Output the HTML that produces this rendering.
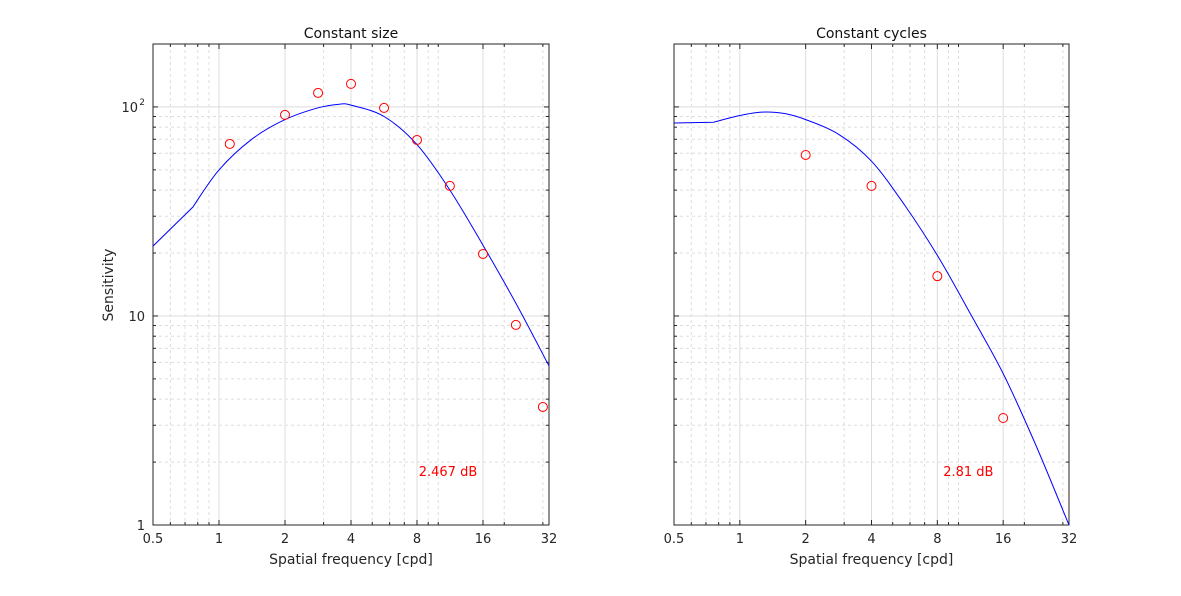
<!DOCTYPE html>
<html><head><meta charset="utf-8"><style>
body{margin:0;background:#fff;}
svg text{font-family:"DejaVu Sans","Liberation Sans",sans-serif;}
</style></head><body>
<svg id="chart" width="1181" height="591" xmlns="http://www.w3.org/2000/svg"></svg>
<script>
const xTicks=[0.5,1,2,4,8,16,32];
const xTickLabels=["0.5","1","2","4","8","16","32"];
const yTicks=[1,10,100];
const yTickLabels=["1","10","10"];
const leftPtsX=[1.12,2,2.83,4,5.66,8,11.3,16,22.6,30];
const leftPtsY=[66.5,91.6,116.7,128.9,98.9,69.5,41.9,19.8,9.06,3.67];
const leftCurveX=[0.5,0.76,1,1.41,2,2.83,3.55,4,5.66,8,11.3,16,22.6,32];
const leftCurveY=[21.6,33.2,50,70,87,99,103,102,90,66,40,21.8,11.5,5.77];
const rightPtsX=[2,4,8,16];
const rightPtsY=[58.9,41.9,15.5,3.25];
const rightCurveX=[0.5,0.76,1,1.26,1.6,2,2.83,4,5.66,8,11.3,16,22.6,32];
const rightCurveY=[83.8,84.5,91,94.5,93,87,74,55,34,19.5,10.3,5.3,2.4,1.0];
const errLabels=["2.467 dB","2.81 dB"];
const ns="http://www.w3.org/2000/svg";
const svg=document.getElementById('chart');
function mk(t,a,p){const e=document.createElementNS(ns,t);for(const k in a)e.setAttribute(k,a[k]);(p||svg).appendChild(e);return e;}
const yTopPx=44,yBotPx=525,yMin=1,yMax=200;
function smoothPath(P){
  let d='M'+P[0][0].toFixed(1)+','+P[0][1].toFixed(1)+'L'+P[1][0].toFixed(1)+','+P[1][1].toFixed(1);
  for(let i=1;i<P.length-1;i++){
    const p0=P[Math.max(1,i-1)],p1=P[i],p2=P[i+1],p3=P[Math.min(P.length-1,i+2)];
    const c1=[p1[0]+(p2[0]-p0[0])/6,p1[1]+(p2[1]-p0[1])/6];
    const c2=[p2[0]-(p3[0]-p1[0])/6,p2[1]-(p3[1]-p1[1])/6];
    d+='C'+c1[0].toFixed(1)+','+c1[1].toFixed(1)+' '+c2[0].toFixed(1)+','+c2[1].toFixed(1)+' '+p2[0].toFixed(1)+','+p2[1].toFixed(1);
  }
  return d;
}
function panel(x0,x1,title,px,py,cx,cy,err,showY,nm){
  const g=mk('g',{});
  
  
  const sx=v=>x0+(Math.log2(v/0.5))/6*(x1-x0);
  const sy=v=>yBotPx-(Math.log10(v)-Math.log10(yMin))/(Math.log10(yMax)-Math.log10(yMin))*(yBotPx-yTopPx);
  const minorX=[0.6,0.7,0.8,0.9,3,5,6,7,9,10,20,30];
  minorX.forEach(v=>{const l=mk('line',{x1:sx(v),x2:sx(v),y1:yTopPx,y2:yBotPx,stroke:'#dedede','stroke-dasharray':'3,3'},g);
    
    
    mk('line',{x1:sx(v),x2:sx(v),y1:yTopPx,y2:yTopPx+3,stroke:'#262626'},g);
    mk('line',{x1:sx(v),x2:sx(v),y1:yBotPx,y2:yBotPx-3,stroke:'#262626'},g);});
  [1,10,100].forEach(d=>[2,3,4,5,6,7,8,9].forEach(m=>{const v=d*m;if(v<=yMax){const l=mk('line',{x1:x0,x2:x1,y1:sy(v),y2:sy(v),stroke:'#dedede','stroke-dasharray':'3,3'},g);
    
    
    mk('line',{x1:x0,x2:x0+3,y1:sy(v),y2:sy(v),stroke:'#262626'},g);mk('line',{x1:x1,x2:x1-3,y1:sy(v),y2:sy(v),stroke:'#262626'},g);}}));
  xTicks.forEach((v,i)=>{const l=mk('line',{x1:sx(v),x2:sx(v),y1:yTopPx,y2:yBotPx,stroke:'#dcdcdc'},g);
    
    
    mk('line',{x1:sx(v),x2:sx(v),y1:yBotPx,y2:yBotPx-5,stroke:'#262626'},g);mk('line',{x1:sx(v),x2:sx(v),y1:yTopPx,y2:yTopPx+5,stroke:'#262626'},g);
    const t=mk('text',{x:sx(v),y:yBotPx+18,'text-anchor':'middle','font-size':13,fill:'#262626'},g);t.textContent=xTickLabels[i];
    
    });
  yTicks.forEach((v,i)=>{const l=mk('line',{x1:x0,x2:x1,y1:sy(v),y2:sy(v),stroke:'#dcdcdc'},g);
    
    
    mk('line',{x1:x0,x2:x0+5,y1:sy(v),y2:sy(v),stroke:'#262626'},g);mk('line',{x1:x1,x2:x1-5,y1:sy(v),y2:sy(v),stroke:'#262626'},g);
    if(showY){const t=mk('text',{x:x0-(i==2?15:8),y:sy(v)+5,'text-anchor':'end','font-size':13,fill:'#262626'},g);
      t.textContent=yTickLabels[i];
      if(i==2){const s=mk('text',{x:x0-8,y:sy(v)-2,'text-anchor':'end','font-size':9,fill:'#262626'},g);s.textContent='2';
        
        }
      
      }});
  const b=mk('rect',{x:x0,y:yTopPx,width:x1-x0,height:yBotPx-yTopPx,fill:'none',stroke:'#262626'},g);
  
  
  const cp=mk('clipPath',{id:'c'+nm},g);mk('rect',{x:x0,y:yTopPx,width:x1-x0,height:yBotPx-yTopPx},cp);
  const P=cx.map((v,i)=>[sx(v),sy(cy[i])]);
  const p=mk('path',{d:smoothPath(P),fill:'none',stroke:'#0000ff','stroke-width':1,'clip-path':'url(#c'+nm+')'},g);
  
  
  px.forEach((v,i)=>{const c=mk('circle',{cx:sx(v),cy:sy(py[i]),r:4.5,fill:'none',stroke:'#ff0000'},g);
    
    });
  const tt=mk('text',{x:(x0+x1)/2,y:38,'text-anchor':'middle','font-size':14,fill:'#111'},g);tt.textContent=title;
  
  
  const xl=mk('text',{x:(x0+x1)/2,y:564,'text-anchor':'middle','font-size':14,fill:'#262626'},g);xl.textContent='Spatial frequency [cpd]';
  
  
  const e=mk('text',{x:sx(8)+31,y:476,'text-anchor':'middle','font-size':13,fill:'#ff0000'},g);e.textContent=err;
  
  
  if(showY){const yl=mk('text',{x:113,y:285,'text-anchor':'middle','font-size':14,fill:'#262626',transform:'rotate(-90 113 285)'},g);yl.textContent='Sensitivity';
    
    }
}
panel(153,549,'Constant size',leftPtsX,leftPtsY,leftCurveX,leftCurveY,errLabels[0],true,'left-panel');
panel(674,1069,'Constant cycles',rightPtsX,rightPtsY,rightCurveX,rightCurveY,errLabels[1],false,'right-panel');
</script>
</body></html>
